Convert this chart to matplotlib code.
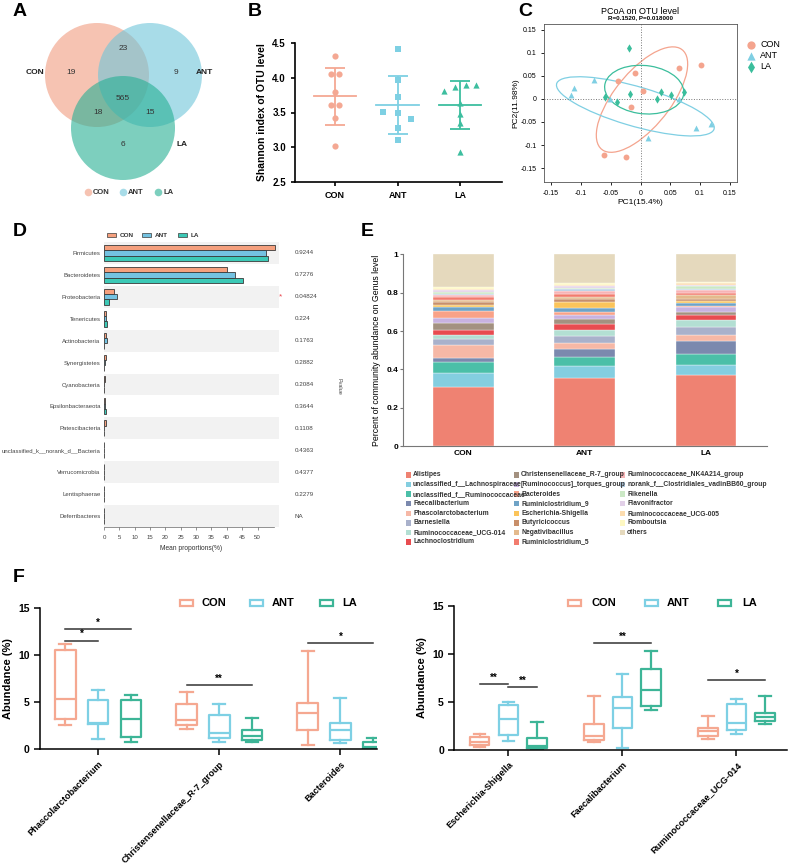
import matplotlib.pyplot as plt
import matplotlib.transforms as mtransforms
from matplotlib.patches import Circle, Ellipse, Rectangle
import numpy as np

plt.rcParams['font.family'] = ['Liberation Sans', 'DejaVu Sans']

groups = ['CON', 'ANT', 'LA']

# ---- A: venn counts
venn_only = [19, 9, 6]          # CON, ANT, LA
venn_con_ant = 23
venn_con_la = 18
venn_ant_la = 15
venn_all = 565

# ---- B: shannon index
shannon_con = [4.31, 4.05, 4.05, 3.79, 3.61, 3.61, 3.42, 3.02]
shannon_ant = [4.42, 3.97, 3.72, 3.51, 3.50, 3.40, 3.27, 3.10]
shannon_la = [3.81, 3.87, 3.90, 3.90, 3.64, 3.48, 3.35, 2.93]
shannon_dx_con = [0, -0.07, 0.07, 0, -0.07, 0.07, 0, 0]
shannon_dx_ant = [0, 0, 0, -0.23, 0, 0.22, 0, 0]
shannon_dx_la = [-0.25, -0.08, 0.09, 0.25, 0, 0, 0, 0]

# ---- C: PCoA
pc_con_x = [0.101, 0.064, -0.010, -0.038, 0.005, -0.016, -0.061, -0.025]
pc_con_y = [0.073, 0.067, 0.055, 0.039, 0.017, -0.018, -0.121, -0.125]
pc_ant_x = [-0.078, -0.111, -0.116, -0.052, 0.065, 0.093, 0.118, 0.012]
pc_ant_y = [0.040, 0.024, 0.009, -0.001, 0.000, -0.063, -0.054, -0.085]
pc_la_x = [-0.019, -0.059, -0.040, -0.018, 0.027, 0.035, 0.051, 0.073]
pc_la_y = [0.110, 0.005, -0.006, 0.011, 0.000, 0.015, 0.009, 0.015]

# ---- D: phylum mean proportions
phyla = ['Firmicutes', 'Bacteroidetes', 'Proteobacteria', 'Tenericutes', 'Actinobacteria',
         'Synergistetes', 'Cyanobacteria', 'Epsilonbacteraeota', 'Patescibacteria',
         'unclassified_k__norank_d__Bacteria', 'Verrucomicrobia', 'Lentisphaerae', 'Deferribacteres']
phy_con = [55.6, 40.2, 3.4, 0.65, 0.5, 0.6, 0.4, 0.2, 0.6, 0.1, 0.15, 0.1, 0.05]
phy_ant = [52.8, 42.6, 4.2, 0.5, 1.0, 0.3, 0.1, 0.2, 0.1, 0.1, 0.1, 0.05, 0.0]
phy_la = [53.3, 45.2, 1.6, 1.0, 0.1, 0.1, 0.1, 0.5, 0.1, 0.1, 0.1, 0.05, 0.0]
phy_p = ['0.9244', '0.7276', '0.04824', '0.224', '0.1763', '0.2882', '0.2084', '0.3644',
         '0.1108', '0.4363', '0.4377', '0.2279', 'NA']

# ---- E: genus composition
genera = ['Alistipes', 'unclassified_f__Lachnospiraceae', 'unclassified_f__Ruminococcaceae',
          'Faecalibacterium', 'Phascolarctobacterium', 'Barnesiella', 'Ruminococcaceae_UCG-014',
          'Lachnoclostridium', 'Christensenellaceae_R-7_group', '[Ruminococcus]_torques_group',
          'Bacteroides', 'Ruminiclostridium_9', 'Escherichia-Shigella', 'Butyricicoccus',
          'Negativibacillus', 'Ruminiclostridium_5', 'Ruminococcaceae_NK4A214_group',
          'norank_f__Clostridiales_vadinBB60_group', 'Rikenella', 'Flavonifractor',
          'Ruminococcaceae_UCG-005', 'Romboutsia', 'others']
genus_colors = ['#EF8272', '#84CEE0', '#4BBFA8', '#7B89AE', '#F6B8A6', '#A9B1CB', '#B3DFD3',
                '#E84C50', '#A39180', '#C8B2E0', '#F9A288', '#6FA3C6', '#FBC45A', '#C88F6A',
                '#E4BA8C', '#F27C6E', '#F7B4B6', '#B1CCE2', '#CBE8C5', '#E2D0E8', '#FCDCAF',
                '#FEF8C2', '#E5D9BD']
gen_con = [0.307, 0.075, 0.057, 0.023, 0.064, 0.033, 0.021, 0.026, 0.034, 0.030, 0.036, 0.021,
           0.011, 0.015, 0.009, 0.014, 0.010, 0.009, 0.009, 0.009, 0.005, 0.014, 0.168]
gen_ant = [0.354, 0.066, 0.047, 0.040, 0.033, 0.036, 0.030, 0.031, 0.024, 0.021, 0.019, 0.021,
           0.028, 0.019, 0.010, 0.016, 0.012, 0.011, 0.006, 0.009, 0.007, 0.010, 0.150]
gen_la = [0.370, 0.054, 0.057, 0.067, 0.033, 0.040, 0.039, 0.024, 0.017, 0.025, 0.005, 0.016,
          0.010, 0.012, 0.018, 0.012, 0.015, 0.007, 0.012, 0.009, 0.007, 0.009, 0.142]

# ---- F: boxplots (whislo, q1, med, q3, whishi)
f1_taxa = ['Phascolarctobacterium', 'Christensenellaceae_R-7_group', 'Bacteroides']
f1_con = [[2.62, 3.23, 5.39, 10.53, 11.17], [2.13, 2.59, 3.12, 4.82, 6.13], [0.50, 2.06, 3.83, 4.96, 10.46]]
f1_ant = [[1.06, 2.70, 2.77, 5.21, 6.31], [0.74, 1.17, 1.70, 3.65, 4.86], [0.71, 0.99, 2.02, 2.77, 5.50]]
f1_la = [[0.74, 1.28, 3.19, 5.25, 5.78], [0.82, 0.96, 1.45, 2.02, 3.30], [0.0, 0.04, 0.28, 0.78, 1.24]]
f1_sig = [(0, 0, 1, 11.56, '*'), (0, 0, 2, 12.8, '*'), (1, 0, 2, 6.84, '**'), (2, 0, 2, 11.28, '*')]

f2_taxa = ['Escherichia-Shigella', 'Faecalibacterium', 'Ruminococcaceae_UCG-014']
f2_con = [[0.28, 0.52, 0.87, 1.39, 1.67], [0.80, 1.04, 1.49, 2.71, 5.63], [1.18, 1.49, 1.94, 2.26, 3.54]]
f2_ant = [[0.97, 1.53, 3.19, 4.72, 5.00], [0.24, 2.33, 4.38, 5.49, 7.88], [1.67, 2.08, 2.78, 4.76, 5.28]]
f2_la = [[0.07, 0.21, 0.38, 1.25, 2.92], [4.17, 4.55, 6.28, 8.44, 10.35], [2.67, 3.06, 3.47, 3.89, 5.66]]
f2_sig = [(0, 0, 1, 6.84, '**'), (0, 1, 2, 6.56, '**'), (1, 0, 2, 11.11, '**'), (2, 0, 2, 7.26, '*')]


W, H = 791, 868
fig = plt.figure(figsize=(W / 100, H / 100), dpi=100)


def px_axes(l, t, r, b):
    return fig.add_axes([l / W, 1 - b / H, (r - l) / W, (b - t) / H])


def ftext(x, y, s, **kw):
    fig.text(x / W, 1 - y / H, s, **kw)


def frect(x, y, w, h, **kw):
    fig.add_artist(Rectangle((x / W, 1 - (y + h) / H), w / W, h / H, transform=fig.transFigure, **kw))


for lab, x, y in [('A', 20, 12), ('B', 255, 12), ('C', 525, 12), ('D', 20, 231), ('E', 367, 232), ('F', 19, 577)]:
    ftext(x, y, lab, fontsize=14, fontweight='bold', ha='center', va='center')

# ================= A =================
venn_cols = ['#F09B80', '#6EC5DA', '#26AF94']
ax = px_axes(0, 0, 250, 200)
ax.set_xlim(0, 250)
ax.set_ylim(200, 0)
ax.axis('off')
centers = [(97, 75), (150, 75), (123, 128)]
for c, col in zip(centers, venn_cols):
    ax.add_patch(Circle(c, 52, color=col, alpha=0.6, lw=0))
cnt_pos = [(71, 73), (176, 73), (123, 144)]
for (x, y), n in zip(cnt_pos, venn_only):
    ax.text(x, y, str(n), ha='center', va='center', fontsize=6, color='#333')
for (x, y), n in [((123, 48), venn_con_ant), ((98, 113), venn_con_la), ((150, 113), venn_ant_la), ((123, 99), venn_all)]:
    ax.text(x, y, str(n), ha='center', va='center', fontsize=6, color='#333')
for (x, y), g in zip([(35, 73), (204, 73), (182, 144)], groups):
    ax.text(x, y, g, ha='center', va='center', fontsize=6, fontweight='bold', color='#222')
for j, g in enumerate(groups):
    ax.scatter(88 + 35 * j, 192, s=30, color=venn_cols[j], alpha=0.6, lw=0)
    ax.text(93 + 35 * j, 192, g, va='center', fontsize=5.5, fontweight='bold', color='#333')

# ================= B =================
b_cols = ['#F4A893', '#7ED0E3', '#3DBE9F']
ax = px_axes(295, 43, 502, 182)
shan = [shannon_con, shannon_ant, shannon_la]
shan_dx = [shannon_dx_con, shannon_dx_ant, shannon_dx_la]
for i, mk in enumerate(['o', 's', '^']):
    v = np.array(shan[i])
    ax.scatter(i + np.array(shan_dx[i]), v, marker=mk, s=20, color=b_cols[i], lw=0, zorder=3)
    m, sd = v.mean(), v.std(ddof=1)
    ax.plot([i - 0.34, i + 0.34], [m, m], color=b_cols[i], lw=1.3)
    ax.errorbar(i, m, yerr=sd, color=b_cols[i], capsize=7.5, elinewidth=1.3, capthick=1.3)
ax.set_ylim(2.5, 4.5)
ax.set_xlim(-0.64, 2.67)
ax.set_yticks([2.5, 3.0, 3.5, 4.0, 4.5])
ax.set_xticks(range(3))
ax.set_xticklabels(groups)
for s in ['top', 'right']:
    ax.spines[s].set_visible(False)
for s in ['left', 'bottom']:
    ax.spines[s].set_linewidth(1.2)
ax.tick_params(labelsize=7, width=1.2, length=3)
for t in ax.get_yticklabels() + ax.get_xticklabels():
    t.set_fontweight('bold')
for t in ax.get_xticklabels():
    t.set_fontsize(6.5)
ax.set_ylabel('Shannon index of OTU level', fontsize=7.5, fontweight='bold', labelpad=4)

# ================= C =================
c_cols = ['#F4A48E', '#7FCFE3', '#3BBE9C']
ax = px_axes(544, 24, 737, 182)
pcs = [(pc_con_x, pc_con_y), (pc_ant_x, pc_ant_y), (pc_la_x, pc_la_y)]
for i, mk in enumerate(['o', '^', 'd']):
    x, y = np.array(pcs[i][0]), np.array(pcs[i][1])
    ax.scatter(x, y, marker=mk, s=18, color=c_cols[i], lw=0, zorder=3, label=groups[i])
    cov = np.cov(x, y)
    vals, vecs = np.linalg.eigh(cov)
    order = vals.argsort()[::-1]
    vals, vecs = vals[order], vecs[:, order]
    ang = np.degrees(np.arctan2(vecs[1, 0], vecs[0, 0]))
    k = 1.42
    ax.add_patch(Ellipse((x.mean(), y.mean()), 2 * k * np.sqrt(vals[0]), 2 * k * np.sqrt(vals[1]),
                         angle=ang, fill=False, color=c_cols[i], lw=0.9))
ax.axhline(0, color='#777', ls=':', lw=0.7)
ax.axvline(0, color='#777', ls=':', lw=0.7)
ax.set_xlim(-0.162, 0.162)
ax.set_ylim(-0.18, 0.162)
tk = [-0.15, -0.1, -0.05, 0, 0.05, 0.1, 0.15]
ax.set_xticks(tk)
ax.set_yticks(tk)
ax.set_xticklabels(['-0.15', '-0.1', '-0.05', '0', '0.05', '0.1', '0.15'])
ax.set_yticklabels(['-0.15', '-0.1', '-0.05', '0', '0.05', '0.1', '0.15'])
ax.tick_params(labelsize=5, length=2, width=0.6)
for s in ax.spines.values():
    s.set_linewidth(0.6)
    s.set_color('#555')
ax.set_xlabel('PC1(15.4%)', fontsize=6, labelpad=2)
ax.set_ylabel('PC2(11.98%)', fontsize=6, labelpad=1)
ax.legend(loc='upper left', bbox_to_anchor=(1.0, 0.93), frameon=False, fontsize=6.5,
          handletextpad=0.0, labelspacing=0.2, borderaxespad=0.2, markerscale=1.4)
ftext(640, 11, 'PCoA on OTU level', fontsize=6.5, ha='center', va='center')
ftext(640, 18, 'R=0.1520, P=0.018000', fontsize=4.5, fontweight='bold', ha='center', va='center')

# ================= D =================
d_cols = ['#F5A07E', '#74C2E1', '#3CC9B6']
ax = px_axes(104, 242, 279, 527)
n = len(phyla)
yy = np.arange(n)
for i in range(0, n, 2):
    ax.axhspan(i - 0.5, i + 0.5, color='#F2F2F2', lw=0, zorder=0)
for j, vals in enumerate([phy_con, phy_ant, phy_la]):
    ax.barh(yy + (j - 1) * 0.245, vals, height=0.245, color=d_cols[j], edgecolor='#3a3a3a', lw=0.6, zorder=2)
ax.set_ylim(n - 0.5, -0.5)
ax.set_xlim(0, 57)
ax.set_yticks(yy)
ax.set_yticklabels(phyla, fontsize=4.3, color='#444')
ax.set_xticks(range(0, 55, 5))
ax.tick_params(axis='x', labelsize=4.4, labelcolor='#444', length=2, width=0.5, color='#666')
ax.tick_params(axis='y', length=0, pad=2.5)
for s in ['top', 'right', 'left']:
    ax.spines[s].set_visible(False)
ax.spines['bottom'].set_bounds(0, 55.5)
ax.spines['bottom'].set_linewidth(0.5)
ax.spines['bottom'].set_color('#666')
ax.set_xlabel('Mean proportions(%)', fontsize=4.8, color='#333', labelpad=4)
tr = mtransforms.blended_transform_factory(ax.transAxes, ax.transData)
for i, p in enumerate(phy_p):
    ax.text(1.09, i, p, transform=tr, fontsize=4.5, color='#444', va='center')
ax.text(1.011, 2, '*', transform=tr, fontsize=6, color='#E8434A', va='center', ha='center')
ax.text(1.34, 6.1, 'Pvalue', transform=tr, fontsize=4, color='#444', va='center', ha='center', rotation=-90)
for j, g in enumerate(groups):
    x0 = [107, 142, 178][j]
    frect(x0, 233, 8.5, 4, facecolor=d_cols[j], edgecolor='#3a3a3a', lw=0.5)
    ftext(x0 + 12.5, 235, g, fontsize=4.6, fontweight='bold', color='#333', va='center')

# ================= E =================
ax = px_axes(402.7, 254.3, 766.7, 446.3)
comp = np.array([gen_con, gen_ant, gen_la])
bottom = np.zeros(3)
for k in range(len(genera)):
    ax.bar(range(3), comp[:, k], bottom=bottom, width=0.5, color=genus_colors[k], edgecolor='white', lw=0.25)
    bottom += comp[:, k]
ax.set_xlim(-0.5, 2.5)
ax.set_ylim(0, 1)
ax.set_yticks([0, 0.2, 0.4, 0.6, 0.8, 1])
ax.set_yticklabels(['0', '0.2', '0.4', '0.6', '0.8', '1'])
ax.set_xticks(range(3))
ax.set_xticklabels(groups)
for s in ['top', 'right']:
    ax.spines[s].set_visible(False)
for s in ['left', 'bottom']:
    ax.spines[s].set_color('#777')
    ax.spines[s].set_linewidth(0.8)
ax.tick_params(axis='y', labelsize=6, length=2, color='#777', pad=1)
ax.tick_params(axis='x', labelsize=6, length=0, pad=3)
for t in ax.get_yticklabels() + ax.get_xticklabels():
    t.set_fontweight('bold')
ax.set_ylabel('Percent of community abundance on Genus level', fontsize=6.3, labelpad=4)
for k, name in enumerate(genera):
    col, row = k // 8, k % 8
    x0 = [405.5, 513.5, 619.5][col]
    y0 = 475 + row * 9.57
    frect(x0, y0 - 2.7, 5.4, 5.4, facecolor=genus_colors[k], lw=0)
    ftext(x0 + 7.5, y0, name, fontsize=4.9, fontweight='bold', color='#333', va='center')

# ================= F =================
f_cols = ['#F5A891', '#7ED0E4', '#3DB597']


def box_panel(ax, taxa, data, offs, sig, xlim):
    for j in range(3):
        st = [dict(whislo=d[0], q1=d[1], med=d[2], q3=d[3], whishi=d[4]) for d in data[j]]
        c = f_cols[j]
        ax.bxp(st, positions=np.arange(len(taxa)) + offs[j], widths=0.17, showfliers=False,
               boxprops=dict(color=c, lw=1.6), whiskerprops=dict(color=c, lw=1.6),
               capprops=dict(color=c, lw=1.6), medianprops=dict(color=c, lw=1.6),
               capwidths=0.1, manage_ticks=False)
    for t, a, b, h, lab in sig:
        ax.plot([t + offs[a], t + offs[b]], [h, h], color='#333', lw=1.1, clip_on=False)
        ax.text((t * 2 + offs[a] + offs[b]) / 2, h + 0.15, lab, ha='center', va='bottom', fontsize=7, fontweight='bold')
    ax.set_ylim(0, 15)
    ax.set_xlim(*xlim)
    ax.set_yticks([0, 5, 10, 15])
    ax.set_xticks(range(len(taxa)))
    ax.set_xticklabels(taxa, rotation=45, ha='right', rotation_mode='anchor')
    for s in ['top', 'right']:
        ax.spines[s].set_visible(False)
    for s in ['left', 'bottom']:
        ax.spines[s].set_linewidth(1.1)
    ax.tick_params(axis='y', labelsize=7.5, width=1.1, length=4)
    ax.tick_params(axis='x', labelsize=6.6, width=1.1, length=4)
    for tl in ax.get_yticklabels() + ax.get_xticklabels():
        tl.set_fontweight('bold')
    ax.set_ylabel('Abundance (%)', fontsize=8, fontweight='bold')


ax = px_axes(40, 608.3, 376.7, 749.3)
box_panel(ax, f1_taxa, [f1_con, f1_ant, f1_la], [-0.27, 0, 0.27], f1_sig, (-0.48, 2.30))
ax = px_axes(454.3, 606, 786.7, 750)
box_panel(ax, f2_taxa, [f2_con, f2_ant, f2_la], [-0.25, 0, 0.25], f2_sig, (-0.473, 2.44))

for xs, ts in [([180, 250, 320], [201, 272, 342]), ([568, 645, 718], [592, 667, 742])]:
    for j, g in enumerate(groups):
        frect(xs[j], 600, 13, 5.5, facecolor='white', edgecolor=f_cols[j], lw=1.6)
        ftext(ts[j], 603, g, fontsize=8, fontweight='bold', va='center')

fig.savefig('out.png', dpi=100)
